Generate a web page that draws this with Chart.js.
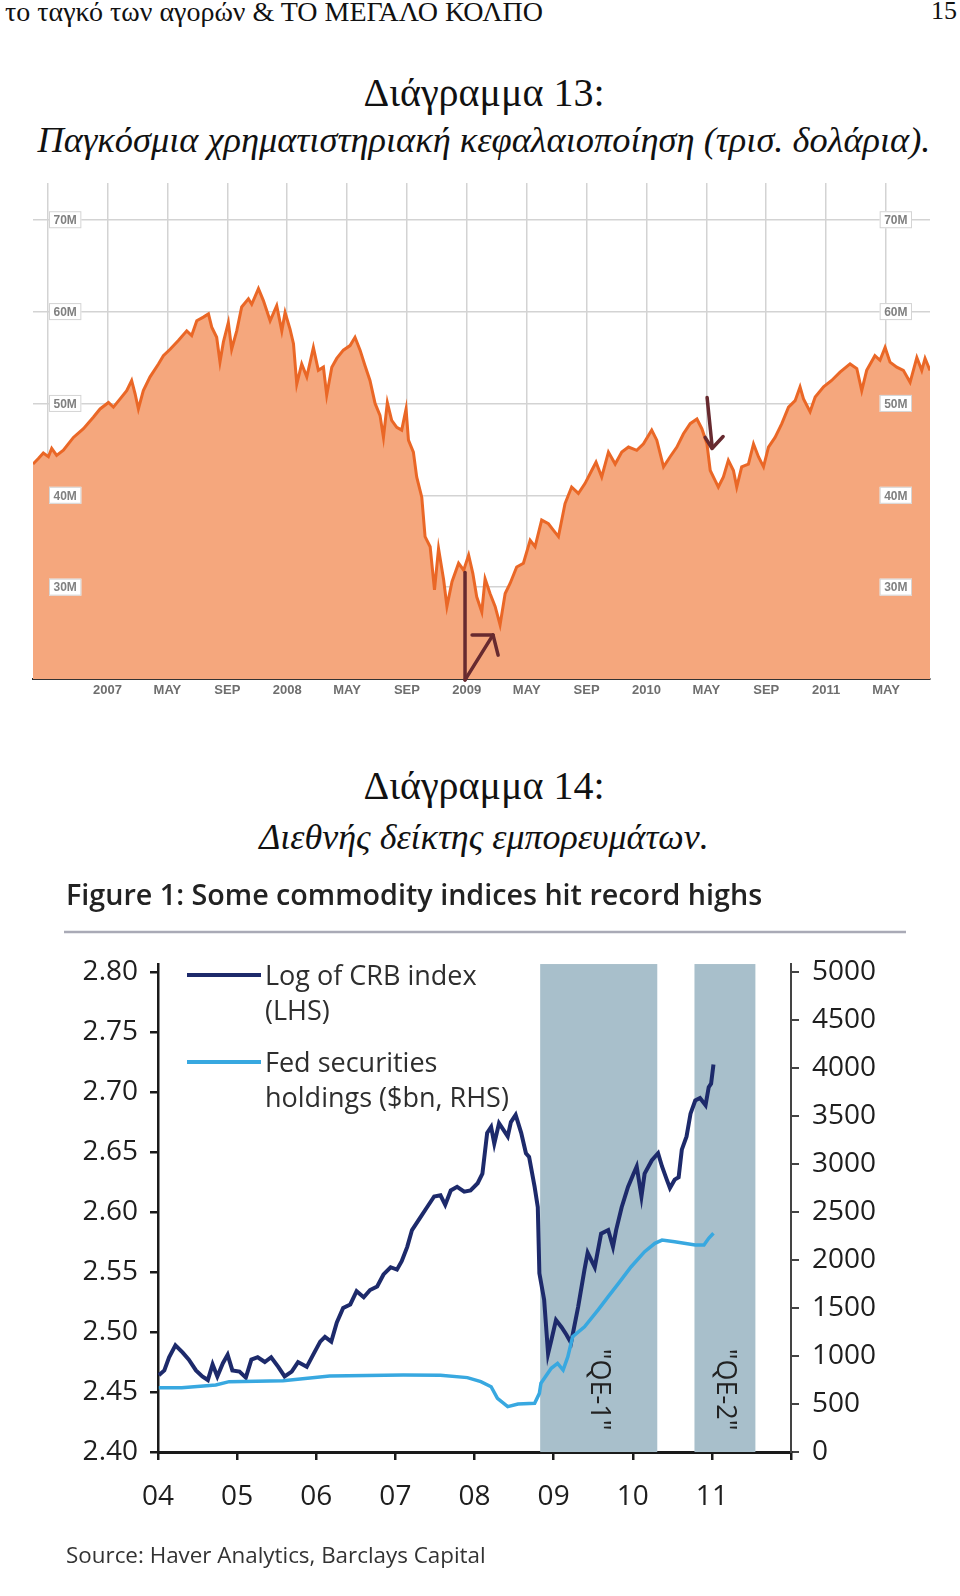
<!DOCTYPE html>
<html>
<head>
<meta charset="utf-8">
<script src="https://cdn.jsdelivr.net/npm/chart.js@4.4.1/dist/chart.umd.min.js"></script>
<style>
  html, body { margin: 0; padding: 0; background: #fff; }
  body { position: relative; width: 960px; height: 1596px; overflow: hidden; font-family: 'Liberation Serif', serif; color: #111; }
  .txt { position: absolute; white-space: nowrap; line-height: 1; }
  .center { left: 0; width: 968px; text-align: center; }
  .it { font-style: italic; }
  canvas { position: absolute; left: 0; }
</style>
</head>
<body>
<div class="txt" style="left:5px; top:-2px; font-size:28px;">το ταγκό των αγορών &amp; ΤΟ ΜΕΓΑΛΟ ΚΟΛΠΟ</div>
<div class="txt" style="right:3px; top:-2px; font-size:26px;">15</div>
<div class="txt center" style="top:73px; font-size:40px;">Διάγραμμα 13:</div>
<div class="txt center it" style="top:122px; font-size:36.4px;">Παγκόσμια χρηματιστηριακή κεφαλαιοποίηση (τρισ. δολάρια).</div>
<canvas id="cap" width="960" height="540" style="top:170px"></canvas>
<div class="txt center" style="top:766px; font-size:40px;">Διάγραμμα 14:</div>
<div class="txt center it" style="top:819px; font-size:36px;">Διεθνής δείκτης εμπορευμάτων.</div>
<canvas id="crb" width="960" height="736" style="top:860px"></canvas>

<script>
// ---- Διάγραμμα 13: market cap, months from Jan 2007 (0) ----
const capMonths = [
  -4.98, -4.62, -4.29, -3.95, -3.73, -3.40, -2.95, -2.28, -1.61, -0.95, -0.50, 0.06, 0.39, 0.84, 1.28, 1.61,
  1.84, 2.06, 2.39, 2.84, 3.40, 3.73, 4.18, 4.73, 5.29, 5.62, 5.96, 6.40, 6.74, 6.96, 7.29, 7.51,
  7.74, 8.07, 8.29, 8.63, 8.96, 9.41, 9.63, 10.08, 10.41, 10.86, 11.30, 11.64, 11.86, 12.19, 12.42, 12.64,
  12.97, 13.31, 13.75, 14.08, 14.42, 14.64, 14.98, 15.31, 15.75, 16.20, 16.53, 16.87, 17.20, 17.53, 17.87,
  18.20, 18.43, 18.69, 18.98, 19.32, 19.65, 19.94, 20.10, 20.43, 20.65, 20.99, 21.21, 21.55, 21.84, 22.11,
  22.45, 22.67, 23.01, 23.45, 23.79, 24.12, 24.40, 24.66, 25.00, 25.22, 25.55, 25.89, 26.22, 26.56, 26.89,
  27.33, 27.78, 28.23, 28.56, 29.00, 29.45, 29.78, 30.12, 30.56, 31.00, 31.45, 31.90, 32.34, 32.63, 33.01,
  33.46, 33.91, 34.35, 34.80, 35.35, 35.80, 36.35, 36.69, 37.14, 37.58, 38.03, 38.47, 38.92, 39.37, 39.70,
  40.04, 40.26, 40.59, 40.80, 41.14, 41.47, 41.81, 42.03, 42.36, 42.81, 43.15, 43.48, 43.82, 44.15, 44.59,
  45.04, 45.49, 45.93, 46.26, 46.49, 46.93, 47.27, 47.83, 48.37, 48.93, 49.60, 50.05, 50.38, 50.71, 51.26,
  51.60, 51.94, 52.27, 52.72, 53.16, 53.61, 54.06, 54.39, 54.61, 54.94
];
const capValues = [
  43.4, 44.0, 44.6, 44.2, 45.1, 44.35, 44.9, 46.3, 47.25, 48.5, 49.4, 50.1, 49.6, 50.5, 51.4, 52.5,
  51.05, 49.4, 51.4, 52.9, 54.3, 55.2, 55.9, 56.85, 57.9, 57.4, 59.0, 59.4, 59.75, 58.3, 57.2, 54.5,
  56.7, 58.8, 55.9, 57.9, 60.5, 61.4, 60.8, 62.5, 61.2, 59.0, 60.65, 57.9, 59.9, 58.1, 56.5, 52.1,
  54.3, 52.9, 56.1, 53.6, 53.95, 50.9, 53.95, 54.9, 55.8, 56.3, 57.2, 55.8, 54.1, 52.5, 50.0,
  48.7, 46.3, 50.1, 48.15, 47.4, 47.1, 49.4, 46.0, 44.7, 42.0, 39.8, 35.5, 34.4, 29.7, 34.2,
  30.8, 27.9, 30.6, 32.6, 31.85, 33.5, 31.5, 28.95, 27.3, 30.9, 29.3, 27.9, 25.9, 29.3, 30.4,
  32.2, 32.6, 35.1, 34.4, 37.3, 36.9, 36.2, 35.5, 39.1, 40.9, 40.2, 41.3, 42.7, 43.6, 42.0,
  44.7, 43.4, 44.7, 45.25, 44.9, 45.6, 47.1, 46.0, 43.1, 44.2, 45.25, 46.7, 47.8, 48.3, 47.25,
  45.6, 42.7, 41.6, 40.9, 42.0, 43.8, 42.7, 40.9, 43.1, 43.4, 45.6, 44.2, 43.1, 45.25, 46.3,
  47.8, 49.6, 50.3, 51.8, 50.5, 49.1, 50.7, 51.8, 52.5, 53.4, 54.3, 53.8, 51.4, 53.6, 55.2,
  54.7, 56.1, 54.5, 53.95, 53.6, 52.3, 55.0, 53.6, 54.9, 53.6
];
const capTicks = [20, 30, 40, 50, 60, 70];
const capTickLabels = ['', '30M', '40M', '50M', '60M', '70M'];
const capMonthTicks = [-4, 0, 4, 8, 12, 16, 20, 24, 28, 32, 36, 40, 44, 48, 52];
const capMonthLabels = ['', '2007', 'MAY', 'SEP', '2008', 'MAY', 'SEP', '2009', 'MAY', 'SEP', '2010', 'MAY', 'SEP', '2011', 'MAY'];
// hand-drawn arrows on the page, in month / value units
const arrowPaths = [
  [[23.88, 31.6], [23.88, 19.9]],
  [[23.88, 19.9], [25.75, 24.8]],
  [[24.35, 24.8], [25.75, 24.8], [26.09, 22.6]],
  [[40.05, 50.65], [40.38, 45.4]],
  [[39.92, 46.3], [40.38, 45.1], [41.12, 46.4]]
];

// ---- Διάγραμμα 14: CRB and Fed holdings ----
const crbYears = [
  2004.01, 2004.08, 2004.14, 2004.22, 2004.31, 2004.39, 2004.48, 2004.56, 2004.63, 2004.69, 2004.75, 2004.82,
  2004.88, 2004.94, 2005.03, 2005.11, 2005.18, 2005.26, 2005.35, 2005.43, 2005.52, 2005.60, 2005.69, 2005.77,
  2005.88, 2005.96, 2006.05, 2006.11, 2006.19, 2006.26, 2006.34, 2006.43, 2006.51, 2006.60, 2006.68, 2006.77,
  2006.85, 2006.94, 2007.02, 2007.08, 2007.15, 2007.21, 2007.32, 2007.40, 2007.49, 2007.57, 2007.63, 2007.70,
  2007.78, 2007.87, 2007.95, 2008.04, 2008.10, 2008.16, 2008.21, 2008.25, 2008.31, 2008.37, 2008.42, 2008.46,
  2008.52, 2008.59, 2008.65, 2008.69, 2008.76, 2008.80, 2008.82, 2008.88, 2008.93, 2008.97, 2009.03, 2009.10,
  2009.16, 2009.22, 2009.31, 2009.39, 2009.43, 2009.52, 2009.60, 2009.69, 2009.75, 2009.79, 2009.86, 2009.94,
  2010.01, 2010.05, 2010.11, 2010.15, 2010.24, 2010.32, 2010.37, 2010.43, 2010.47, 2010.53, 2010.58, 2010.62,
  2010.68, 2010.73, 2010.79, 2010.85, 2010.92, 2010.96, 2010.99, 2011.02
];
const crbLog = [
  2.464, 2.468, 2.479, 2.489, 2.483, 2.477, 2.468, 2.463, 2.460, 2.473, 2.463, 2.474,
  2.481, 2.468, 2.467, 2.462, 2.477, 2.479, 2.475, 2.479, 2.471, 2.463, 2.467, 2.475,
  2.471, 2.481, 2.492, 2.496, 2.492, 2.508, 2.520, 2.523, 2.534, 2.529, 2.535, 2.538,
  2.548, 2.554, 2.552, 2.559, 2.571, 2.585, 2.596, 2.604, 2.613, 2.614, 2.606, 2.618,
  2.621, 2.617, 2.618, 2.624, 2.632, 2.666, 2.671, 2.657, 2.674, 2.668, 2.663, 2.675,
  2.681, 2.666, 2.649, 2.646, 2.621, 2.604, 2.549, 2.527, 2.482, 2.493, 2.510, 2.504,
  2.498, 2.491, 2.521, 2.552, 2.566, 2.554, 2.582, 2.585, 2.571, 2.585, 2.604, 2.621,
  2.632, 2.638, 2.613, 2.632, 2.643, 2.649, 2.638, 2.627, 2.620, 2.627, 2.629, 2.652,
  2.663, 2.682, 2.693, 2.695, 2.689, 2.704, 2.707, 2.723
];
const fedYears = [
  2004.01, 2004.30, 2004.73, 2004.90, 2005.58, 2006.17, 2007.10, 2007.57, 2007.91, 2008.08, 2008.21, 2008.29,
  2008.42, 2008.55, 2008.76, 2008.82, 2008.84, 2008.97, 2009.05, 2009.12, 2009.18, 2009.24, 2009.39, 2009.56,
  2009.69, 2009.82, 2009.98, 2010.15, 2010.28, 2010.37, 2010.53, 2010.79, 2010.90, 2010.96, 2011.02
];
const fedHoldings = [
  670, 670, 698, 733, 743, 792, 802, 800, 775, 733, 680, 559,
  472, 500, 507, 611, 716, 872, 924, 854, 993, 1201, 1305, 1479,
  1618, 1757, 1930, 2087, 2174, 2208, 2191, 2156, 2156, 2226, 2278
];
const yearTicks = [2004, 2005, 2006, 2007, 2008, 2009, 2010, 2011, 2012];
const yearLabels = ['04', '05', '06', '07', '08', '09', '10', '11', ''];
const lhsTicks = [2.40, 2.45, 2.50, 2.55, 2.60, 2.65, 2.70, 2.75, 2.80];
const lhsLabels = ['2.40', '2.45', '2.50', '2.55', '2.60', '2.65', '2.70', '2.75', '2.80'];
const rhsTicks = [0, 500, 1000, 1500, 2000, 2500, 3000, 3500, 4000, 4500, 5000];
const qeStarts = [2008.83, 2010.78];
const qeEnds = [2010.31, 2011.55];
const qeLabels = ['"QE-1"', '"QE-2"'];
const legendText = [['Log of CRB index', '(LHS)'], ['Fed securities', 'holdings ($bn, RHS)']];

// boxed value labels on both sides of chart 13
const capLabelPlugin = {
  id: 'capLabels',
  afterDatasetsDraw(chart) {
    const { ctx, chartArea, scales: { y } } = chart;
    ctx.save();
    ctx.font = 'bold 12px "Liberation Sans"';
    ctx.textBaseline = 'middle';
    ctx.textAlign = 'left';
    capTicks.forEach((v, i) => {
      const t = capTickLabels[i];
      if (!t) return;
      const yy = y.getPixelForValue(v);
      const w = ctx.measureText(t).width + 9, h = 17;
      [chartArea.left + 16, chartArea.right - 18 - w].forEach(x0 => {
        ctx.fillStyle = '#fff';
        ctx.fillRect(x0, yy - h / 2, w, h);
        ctx.strokeStyle = '#d4d4d4';
        ctx.lineWidth = 1;
        ctx.strokeRect(x0 + 0.5, yy - h / 2 + 0.5, w - 1, h - 1);
        ctx.fillStyle = '#808080';
        ctx.fillText(t, x0 + 4.5, yy + 1);
      });
    });
    ctx.restore();
  }
};

const arrowPlugin = {
  id: 'arrows',
  afterDatasetsDraw(chart) {
    const { ctx, scales: { x, y } } = chart;
    ctx.save();
    ctx.strokeStyle = '#672a2f';
    ctx.lineWidth = 3.5;
    ctx.lineCap = 'round';
    ctx.lineJoin = 'round';
    arrowPaths.forEach(p => {
      ctx.beginPath();
      p.forEach(([m, v], k) => {
        const px = x.getPixelForValue(m), py = y.getPixelForValue(v);
        if (k) ctx.lineTo(px, py); else ctx.moveTo(px, py);
      });
      ctx.stroke();
    });
    ctx.restore();
  }
};

new Chart(document.getElementById('cap'), {
  type: 'line',
  data: {
    datasets: [{
      data: capMonths.map((m, i) => ({ x: m, y: capValues[i] })),
      borderColor: '#ea6726',
      borderWidth: 3,
      backgroundColor: '#f5a77d',
      fill: 'start',
      pointRadius: 0,
      tension: 0
    }]
  },
  options: {
    responsive: false,
    animation: false,
    events: [],
    layout: { padding: { left: 33, right: 30, top: 13, bottom: 0 }, autoPadding: false },
    plugins: { legend: { display: false }, tooltip: { enabled: false } },
    scales: {
      x: {
        type: 'linear', min: -4.98, max: 54.94,
        afterBuildTicks: a => { a.ticks = capMonthTicks.map(v => ({ value: v })); },
        afterFit: s => { s.height = 31; },
        ticks: {
          autoSkip: false, maxRotation: 0, padding: 4, color: '#6e6e6e',
          font: { family: 'Liberation Sans', weight: 'bold', size: 13 },
          callback: (v, i) => capMonthLabels[i]
        },
        grid: { color: '#d3d3d3', lineWidth: 1.5, drawTicks: false },
        border: { display: true, color: '#333', width: 2 }
      },
      y: {
        min: 20, max: 74,
        afterBuildTicks: a => { a.ticks = capTicks.map(v => ({ value: v })); },
        afterFit: s => { s.width = 0; },
        ticks: { display: false },
        grid: { color: c => (c.tick && c.tick.value === 20 ? 'rgba(0,0,0,0)' : '#d3d3d3'), lineWidth: 1.5, drawTicks: false },
        border: { display: false }
      }
    }
  },
  plugins: [capLabelPlugin, arrowPlugin]
});

// QE bands and their labels
const bandPlugin = {
  id: 'qeBands',
  beforeDatasetsDraw(chart) {
    const { ctx, chartArea, scales: { x, yL } } = chart;
    ctx.save();
    qeStarts.forEach((s, i) => {
      const x0 = x.getPixelForValue(s), x1 = x.getPixelForValue(qeEnds[i]);
      ctx.fillStyle = '#a8bfcb';
      ctx.fillRect(x0, chartArea.top, x1 - x0, chartArea.bottom - chartArea.top);
      ctx.save();
      ctx.translate((x0 + x1) / 2, yL.getPixelForValue(2.452));
      ctx.rotate(Math.PI / 2);
      ctx.fillStyle = '#222';
      ctx.font = '27px "Open Sans"';
      ctx.textAlign = 'center';
      ctx.textBaseline = 'middle';
      ctx.fillText(qeLabels[i], 0, 0);
      ctx.restore();
    });
    ctx.restore();
  }
};

const legendPlugin = {
  id: 'sideLegend',
  afterDraw(chart) {
    const { ctx } = chart;
    const ds = chart.data.datasets;
    const rows = [115, 202];
    ctx.save();
    // rule under the figure title
    ctx.strokeStyle = '#a9aab6';
    ctx.lineWidth = 2.5;
    ctx.beginPath();
    ctx.moveTo(64, 72);
    ctx.lineTo(906, 72);
    ctx.stroke();
    ctx.font = '27px "Open Sans"';
    ctx.textBaseline = 'middle';
    ctx.textAlign = 'left';
    legendText.forEach((lines, i) => {
      const y0 = rows[i];
      ctx.strokeStyle = ds[i].borderColor;
      ctx.lineWidth = 4;
      ctx.beginPath();
      ctx.moveTo(187, y0);
      ctx.lineTo(261, y0);
      ctx.stroke();
      ctx.fillStyle = '#2e2e2e';
      lines.forEach((t, k) => ctx.fillText(t, 265, y0 + 2 + k * 35));
    });
    ctx.restore();
  }
};

const axisFont = { family: 'Open Sans', size: 28 };

new Chart(document.getElementById('crb'), {
  type: 'line',
  data: {
    datasets: [
      {
        label: 'Log of CRB index (LHS)',
        data: crbYears.map((x, i) => ({ x: x, y: crbLog[i] })),
        yAxisID: 'yL',
        borderColor: '#1d2a6b',
        borderWidth: 4,
        pointRadius: 0,
        tension: 0,
        order: 1
      },
      {
        label: 'Fed securities holdings ($bn, RHS)',
        data: fedYears.map((x, i) => ({ x: x, y: fedHoldings[i] })),
        yAxisID: 'yR',
        borderColor: '#38a8e0',
        borderWidth: 3.5,
        pointRadius: 0,
        tension: 0,
        order: 0
      }
    ]
  },
  options: {
    responsive: false,
    animation: false,
    events: [],
    layout: { padding: { left: 66, right: 0, top: 0, bottom: 0 }, autoPadding: false },
    plugins: {
      legend: { display: false },
      tooltip: { enabled: false },
      title: {
        display: true, align: 'start', color: '#222',
        text: 'Figure 1: Some commodity indices hit record highs',
        font: { family: 'Open Sans', size: 28.7, weight: '600' },
        padding: { top: 19.6, bottom: 50 }
      },
      subtitle: {
        display: true, position: 'bottom', align: 'start', color: '#333',
        text: 'Source: Haver Analytics, Barclays Capital',
        font: { family: 'Open Sans', size: 22.4 },
        padding: { top: 21.5, bottom: 25.6 }
      }
    },
    scales: {
      x: {
        type: 'linear', min: 2004, max: 2012,
        afterBuildTicks: a => { a.ticks = yearTicks.map(v => ({ value: v })); },
        afterFit: s => { s.height = 70; },
        ticks: { autoSkip: false, maxRotation: 0, padding: 20, color: '#1e1e1e', font: axisFont, callback: (v, i) => yearLabels[i] },
        grid: { drawOnChartArea: false, drawTicks: true, tickLength: 8, color: '#1a1a1a', lineWidth: 2.5 },
        border: { color: '#1a1a1a', width: 3 }
      },
      yL: {
        position: 'left', min: 2.40, max: 2.8067,
        afterBuildTicks: a => { a.ticks = lhsTicks.map(v => ({ value: v })); },
        afterFit: s => { s.width = 92; },
        ticks: { padding: 12, color: '#1e1e1e', font: axisFont, callback: (v, i) => lhsLabels[i] },
        grid: { drawOnChartArea: false, drawTicks: true, tickLength: 8, color: '#1a1a1a', lineWidth: 2.5 },
        border: { color: '#1a1a1a', width: 2.5 }
      },
      yR: {
        position: 'right', min: 0, max: 5083,
        afterBuildTicks: a => { a.ticks = rhsTicks.map(v => ({ value: v })); },
        afterFit: s => { s.width = 169; },
        ticks: { padding: 13, color: '#1e1e1e', font: axisFont, callback: (v, i) => String(rhsTicks[i]) },
        grid: { drawOnChartArea: false, drawTicks: true, tickLength: 8, color: '#444', lineWidth: 2 },
        border: { color: '#444', width: 2 }
      }
    }
  },
  plugins: [bandPlugin, legendPlugin]
});
</script>
</body>
</html>
